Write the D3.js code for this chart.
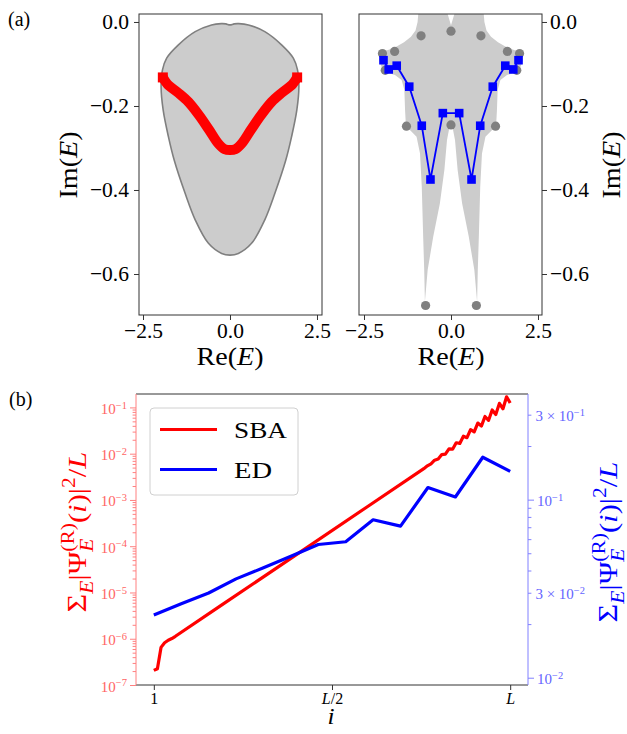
<!DOCTYPE html>
<html><head><meta charset="utf-8">
<script src="https://cdn.jsdelivr.net/npm/d3@7"></script>
<style>
body{margin:0;background:#fff}
svg{display:block}
svg text{font-family:"Liberation Serif","Times New Roman",serif !important}
</style>
</head><body>
<svg id="c" width="627" height="734" font-family="Liberation Serif"></svg>
<script>
// ---------- DATA ----------
// panel (a) left: PBC spectrum region boundary
const bandRe = [0,-0.12,-0.25,-0.53,-1.0,-1.49,-1.82,-1.94,-1.98,-1.92,-1.77,-1.60,-1.29,-1.0,-0.62,-0.24,0,0.24,0.62,1.0,1.29,1.60,1.77,1.92,1.98,1.94,1.82,1.49,1.0,0.53,0.25,0.12];
const bandIm = [-0.007,-0.0045,-0.004,-0.007,-0.023,-0.055,-0.086,-0.114,-0.154,-0.21,-0.273,-0.33,-0.408,-0.471,-0.527,-0.551,-0.555,-0.551,-0.527,-0.471,-0.408,-0.33,-0.273,-0.21,-0.154,-0.114,-0.086,-0.055,-0.023,-0.007,-0.004,-0.0045];
// SBA spectrum (red)
const sbaRe = [-1.93,-1.8,-1.5,-1.2,-0.9,-0.6,-0.35,-0.15,0,0.15,0.35,0.6,0.9,1.2,1.5,1.8,1.93];
const sbaIm = [-0.132,-0.148,-0.168,-0.190,-0.221,-0.257,-0.288,-0.303,-0.305,-0.303,-0.288,-0.257,-0.221,-0.190,-0.168,-0.148,-0.132];
// panel (a) right: gray region
const regionRe = [-0.10,-0.12,-0.94,-0.94,-0.96,-1.02,-1.15,-1.35,-1.60,-1.85,-2.04,-2.07,-1.95,-1.61,-1.42,-1.34,-1.32,-1.30,-1.23,-0.99,-0.89,-0.84,-0.80,-0.77,-0.75,-0.67,-0.51,-0.32,-0.19,-0.115,-0.05,0,
                  0.05,0.115,0.19,0.32,0.51,0.67,0.75,0.77,0.80,0.84,0.89,0.99,1.23,1.30,1.32,1.34,1.42,1.61,1.95,2.07,2.04,1.85,1.60,1.35,1.15,1.02,0.96,0.94,0.94,0.12,0.10,0];
const regionIm = [0.02,0.06,0.06,0.02,0.0,-0.02,-0.035,-0.048,-0.060,-0.068,-0.074,-0.09,-0.118,-0.126,-0.138,-0.162,-0.21,-0.241,-0.253,-0.273,-0.313,-0.392,-0.511,-0.590,-0.666,-0.59,-0.511,-0.432,-0.352,-0.281,-0.253,-0.241,
                  -0.253,-0.281,-0.352,-0.432,-0.511,-0.59,-0.666,-0.590,-0.511,-0.392,-0.313,-0.273,-0.253,-0.241,-0.21,-0.162,-0.138,-0.126,-0.118,-0.09,-0.074,-0.068,-0.060,-0.048,-0.035,-0.02,0.0,0.02,0.06,0.06,0.02,-0.008];
// gray circles
const obcRe = [-0.86,0,0.86,-1.97,-1.62,1.62,1.97,-1.89,1.89,-1.28,0,1.28,-0.73,0.73];
const obcIm = [-0.033,-0.022,-0.033,-0.075,-0.07,-0.07,-0.075,-0.115,-0.115,-0.248,-0.245,-0.248,-0.675,-0.675];
// blue squares (ED)
const edRe = [-1.94,-1.79,-1.56,-1.20,-0.84,-0.59,-0.235,0.235,0.59,0.84,1.20,1.56,1.79,1.94];
const edIm = [-0.091,-0.113,-0.104,-0.154,-0.247,-0.375,-0.217,-0.217,-0.375,-0.247,-0.154,-0.104,-0.113,-0.091];
const topXTicks = [-2.5,0,2.5];
const topYTicks = [0,-0.2,-0.4,-0.6];
// panel (b)
const sbaL = 100;
const sbaSite = [1,2,3,4,5,6,7,20,40,60,76,77,78,79,80,81,82,83,84,85,86,87,88,89,90,91,92,93,94,95,96,97,98,99,100];
const sbaValue = [2.07e-7,2.25e-7,6.5e-7,8.2e-7,9.3e-7,1.01e-6,1.13e-6,5.45e-6,6.12e-5,6.86e-4,4.74e-3,
  5.46e-3,6.05e-3,7.24e-3,7.70e-3,9.58e-3,9.81e-3,1.27e-2,1.25e-2,1.72e-2,1.665e-2,2.385e-2,2.22e-2,3.31e-2,2.96e-2,
  4.59e-2,3.95e-2,6.36e-2,5.27e-2,8.82e-2,7.02e-2,1.223e-1,9.36e-2,1.696e-1,1.249e-1];
const edL = 14;
const edSite = [1,2,3,4,5,6,7,8,9,10,11,12,13,14];
const edValue = [0.0225,0.026,0.0299,0.0359,0.0414,0.0481,0.056,0.058,0.0771,0.071,0.117,0.1035,0.173,0.144];
const bXTicks = [0,0.5,1];
const bXLabels = ["1","L/2","L"];
const leftMajor = [1e-7,1e-6,1e-5,1e-4,1e-3,1e-2,1e-1];
const rightMajor = [0.01,0.1];
const rightMinor = [0.02,0.03,0.04,0.05,0.06,0.07,0.08,0.09,0.2,0.3];
const legendNames = ["SBA","ED"];
const legendColors = ["#ff0000","#0000ff"];

// ---------- DRAW ----------
const SERIF = '"Liberation Serif","Times New Roman",serif';
const svg = d3.select("#c");
const FONT_TICK = 21.5, FONT_LAB = 25.5;

function mathText(parent, parts, size, color){
  const g = parent.append("g");
  let cur = 0, prevStart = 0;
  parts.forEach(p=>{
    const s = (p.s||1)*size;
    const x0 = p.stack ? prevStart : cur;
    const t = g.append("text").attr("x", x0).attr("y", (p.dy||0)*size)
      .style("font-family", SERIF)
      .style("font-size", s+"px").style("fill", color||"#000")
      .style("font-style", p.it ? "italic":"normal").text(p.t);
    const w = t.node().getComputedTextLength();
    if(p.stack){ cur = Math.max(cur, prevStart + w); }
    else { prevStart = cur; cur = cur + w; }
  });
  return {g, w: cur};
}
function label(parent, parts, size, cx, cy, rot, color, stretch){
  const k = stretch||1.1;
  const outer = parent.append("g").attr("transform", `translate(${cx},${cy}) rotate(${rot})`);
  const m = mathText(outer, parts, size, color);
  m.g.attr("transform", `translate(${-m.w*k/2},0) scale(${k},1)`);
}
const imParts = [{t:"Im("},{t:"E",it:true},{t:")"}];
const reParts = [{t:"Re("},{t:"E",it:true},{t:")"}];

// scales for (a)
const yA = d3.scaleLinear().domain([0.019,-0.6976]).range([14,315]);
const xL = d3.scaleLinear().domain([-2.615,2.644]).range([139,322]);
const xR = d3.scaleLinear().domain([-2.644,2.615]).range([359,542]);

const defs = svg.append("defs");
function clip(id,x,y,w,h){ defs.append("clipPath").attr("id",id).append("rect").attr("x",x).attr("y",y).attr("width",w).attr("height",h); }
clip("cL",139,14,183,301); clip("cR",359,14,183,301); clip("cB",136,394,392,291);

// ---- left panel
const gL = svg.append("g").attr("clip-path","url(#cL)");
const bandPts = bandRe.map((d,i)=>[xL(d), yA(bandIm[i])]);
gL.append("path").attr("d", d3.line().curve(d3.curveCatmullRomClosed.alpha(0.5))(bandPts))
  .attr("fill","#cccccc").attr("stroke","#7f7f7f").attr("stroke-width",1.6);
const sbaPts = sbaRe.map((d,i)=>[xL(d), yA(sbaIm[i])]);
gL.append("path").attr("d", d3.line().curve(d3.curveCatmullRom)(sbaPts))
  .attr("fill","none").attr("stroke","#ff0000").attr("stroke-width",10).attr("stroke-linejoin","round");
gL.selectAll("rect.end").data([0, sbaPts.length-1]).enter().append("rect")
  .attr("x",i=>sbaPts[i][0]-5).attr("y",i=>sbaPts[i][1]-5).attr("width",10).attr("height",10).attr("fill","#ff0000");

svg.append("rect").attr("x",139).attr("y",14).attr("width",183).attr("height",301).attr("fill","none").attr("stroke","#333").attr("stroke-width",1);
const fmt = d=> d===0 ? "0.0" : d3.format(".1f")(d);
function styleAxis(g, size){
  g.attr("font-family", null);
  g.select(".domain").remove();
  g.selectAll(".tick line").attr("stroke","#333");
  g.selectAll(".tick text").style("font-size", size+"px").style("font-family",SERIF).attr("fill","#000");
}
svg.append("g").attr("transform","translate(0,315)")
  .call(d3.axisBottom(xL).tickValues(topXTicks).tickSize(5).tickPadding(3).tickFormat(fmt)).call(g=>styleAxis(g,FONT_TICK));
svg.append("g").attr("transform","translate(139,0)")
  .call(d3.axisLeft(yA).tickValues(topYTicks).tickSize(5).tickPadding(5).tickFormat(fmt)).call(g=>styleAxis(g,FONT_TICK));
label(svg, imParts, FONT_LAB, 77, 165, -90);
label(svg, reParts, FONT_LAB, 230, 365, 0);

// ---- right panel
const gR = svg.append("g").attr("clip-path","url(#cR)");
const regPts = regionRe.map((d,i)=>[xR(d), yA(regionIm[i])]);
gR.append("path").attr("d", d3.line()(regPts)+"Z").attr("fill","#cccccc").attr("stroke","none");
gR.selectAll("circle").data(obcRe).enter().append("circle")
  .attr("cx",d=>xR(d)).attr("cy",(d,i)=>yA(obcIm[i])).attr("r",4.6).attr("fill","#808080");
const edPts = edRe.map((d,i)=>[xR(d), yA(edIm[i])]);
gR.append("path").attr("d", d3.line()(edPts)).attr("fill","none").attr("stroke","#0000ff").attr("stroke-width",1.8);
gR.selectAll("rect.sq").data(edPts).enter().append("rect")
  .attr("x",d=>d[0]-4.3).attr("y",d=>d[1]-4.3).attr("width",8.6).attr("height",8.6).attr("fill","#0000ff");
svg.append("rect").attr("x",359).attr("y",14).attr("width",183).attr("height",301).attr("fill","none").attr("stroke","#333").attr("stroke-width",1);
svg.append("g").attr("transform","translate(0,315)")
  .call(d3.axisBottom(xR).tickValues(topXTicks).tickSize(5).tickPadding(3).tickFormat(fmt)).call(g=>styleAxis(g,FONT_TICK));
svg.append("g").attr("transform","translate(542,0)")
  .call(d3.axisRight(yA).tickValues(topYTicks).tickSize(5).tickPadding(3).tickFormat(fmt)).call(g=>styleAxis(g,FONT_TICK));
label(svg, imParts, FONT_LAB, 620, 165, -90);
label(svg, reParts, FONT_LAB, 451, 365, 0);

svg.append("text").attr("x",8).attr("y",26).style("font-family",SERIF).style("font-size","20px").text("(a)");
svg.append("text").attr("x",9).attr("y",406).style("font-family",SERIF).style("font-size","20px").text("(b)");

// ---- bottom panel
const xB = d3.scaleLinear().domain([-0.05,1.05]).range([136,528]);
const yBL = d3.scaleLog().domain([1e-7,0.195]).range([685,394]);
const yBR = d3.scaleLog().domain([0.0091,0.392]).range([685,394]);
const gB = svg.append("g").attr("clip-path","url(#cB)");
const sbaXY = sbaSite.map((s,i)=>[xB((s-1)/(sbaL-1)), yBL(sbaValue[i])]);
const edXY = edSite.map((s,i)=>[xB((s-1)/(edL-1)), yBR(edValue[i])]);
gB.append("path").attr("d", d3.line()(sbaXY)).attr("fill","none").attr("stroke","#ff0000").attr("stroke-width",3.2).attr("stroke-linejoin","round");
gB.append("path").attr("d", d3.line()(edXY)).attr("fill","none").attr("stroke","#0000ff").attr("stroke-width",3.2).attr("stroke-linejoin","round");

// frame
svg.append("line").attr("x1",136).attr("x2",528).attr("y1",394).attr("y2",394).attr("stroke","#333");
svg.append("line").attr("x1",136).attr("x2",528).attr("y1",685).attr("y2",685).attr("stroke","#333");
svg.append("line").attr("x1",136).attr("x2",136).attr("y1",394).attr("y2",685).attr("stroke","#ff8080");
svg.append("line").attr("x1",528).attr("x2",528).attr("y1",394).attr("y2",685).attr("stroke","#8080ff");

const SMALL = 15;
function supLabel(sel, baseFn, expFn, color){
  sel.each(function(d){
    const t = d3.select(this); t.text(null).attr("fill",color).style("font-size",SMALL+"px").style("font-family",SERIF);
    t.append("tspan").text(baseFn(d));
    t.append("tspan").attr("dy","-0.5em").style("font-size","10.5px").text(expFn(d));
  });
}
const expOf = d => "\u2212" + Math.round(-Math.log10(d));
// left axis
const gLA = svg.append("g").attr("transform","translate(136,0)");
gLA.call(d3.axisLeft(yBL).tickValues(leftMajor).tickSize(6).tickPadding(3));
gLA.select(".domain").remove();
gLA.selectAll(".tick line").attr("stroke","#ff8080");
gLA.selectAll(".tick text").call(s=>supLabel(s, ()=> "10", expOf, "#ff6464")).attr("dy","0.4em");
const leftMinor = [];
leftMajor.forEach(m=>{ for(let k=2;k<=9;k++){ const v=m*k; if(v<0.195) leftMinor.push(v);} });
const gLm = svg.append("g").attr("transform","translate(136,0)");
gLm.call(d3.axisLeft(yBL).tickValues(leftMinor).tickSize(3.4).tickFormat(""));
gLm.select(".domain").remove(); gLm.selectAll(".tick line").attr("stroke","#ff8080");
// right axis
const gRA = svg.append("g").attr("transform","translate(528,0)");
gRA.call(d3.axisRight(yBR).tickValues(rightMajor).tickSize(6).tickPadding(3));
gRA.select(".domain").remove();
gRA.selectAll(".tick line").attr("stroke","#8080ff");
gRA.selectAll(".tick text").call(s=>supLabel(s, ()=> "10", expOf, "#6464ff")).attr("dy","0.4em");
const gRm = svg.append("g").attr("transform","translate(528,0)");
gRm.call(d3.axisRight(yBR).tickValues(rightMinor).tickSize(3.4).tickPadding(4));
gRm.select(".domain").remove(); gRm.selectAll(".tick line").attr("stroke","#8080ff");
gRm.selectAll(".tick text").each(function(d){
  const t = d3.select(this);
  if(Math.abs(d-0.03)<1e-9 || Math.abs(d-0.3)<1e-9){
    t.text(null).attr("fill","#6464ff").style("font-size",SMALL+"px").style("font-family",SERIF).attr("dy","0.4em");
    t.append("tspan").text("3 \u00d7 10");
    t.append("tspan").attr("dy","-0.5em").style("font-size","10.5px").text(d<0.1? "\u22122":"\u22121");
  } else t.remove();
});
// x axis
const gXA = svg.append("g").attr("transform","translate(0,685)");
gXA.call(d3.axisBottom(xB).tickValues(bXTicks).tickSize(5).tickPadding(3));
gXA.select(".domain").remove();
gXA.selectAll(".tick line").attr("stroke","#333");
gXA.selectAll(".tick text").each(function(d,i){
  const t = d3.select(this); t.text(null).style("font-size","16px").style("font-family",SERIF).attr("fill","#000");
  const lab = bXLabels[i];
  if(lab.startsWith("L")){ t.append("tspan").style("font-style","italic").text("L"); if(lab.length>1) t.append("tspan").text(lab.slice(1)); }
  else t.append("tspan").text(lab);
});
label(svg, [{t:"i",it:true}], 23, 331, 724, 0);

const yParts = [{t:"\u03a3", s:1.05},{t:"E",it:true,s:0.7,dy:0.25},{t:"|\u03a8"},{t:"E",it:true,s:0.7,dy:0.25},{t:"(R)",s:0.7,dy:-0.47,stack:true},
  {t:"("},{t:"i",it:true},{t:")|"},{t:"2",s:0.7,dy:-0.42},{t:"/"},{t:"L",it:true}];
label(svg, yParts, 26, 86, 532, -90, "#ff0000", 1.18);
label(svg, yParts, 26, 617, 542, -90, "#0000ff", 1.18);

// legend
const lg = svg.append("g");
lg.append("rect").attr("x",150).attr("y",408).attr("width",148).attr("height",87).attr("rx",4)
  .attr("fill","#fff").attr("fill-opacity",0.8).attr("stroke","#d0d0d0");
const legendWidths = [53,38];
legendNames.forEach((n,i)=>{
  const y = 429.5 + i*40;
  lg.append("line").attr("x1",160).attr("x2",217).attr("y1",y).attr("y2",y).attr("stroke",legendColors[i]).attr("stroke-width",3.2);
  lg.append("text").attr("x",234).attr("y",y+8).style("font-family",SERIF).style("font-size","23px")
    .attr("textLength",legendWidths[i]).attr("lengthAdjust","spacingAndGlyphs").text(n);
});
</script>
</body></html>
